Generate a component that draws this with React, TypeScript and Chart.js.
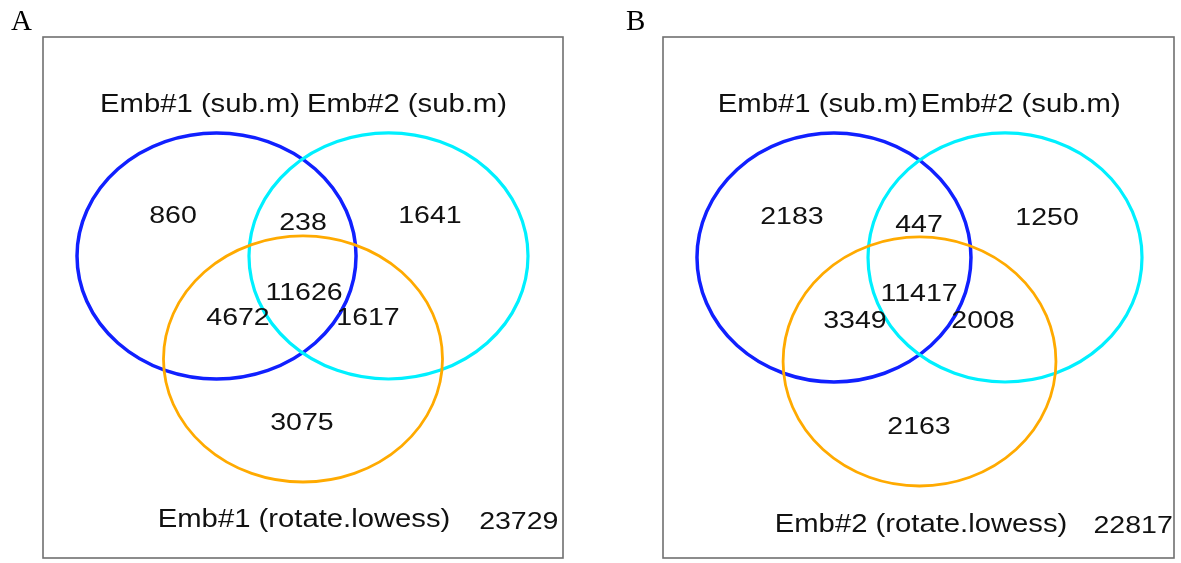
import React, { useEffect, useRef } from "react";
import { Chart, registerables } from "chart.js";

Chart.register(...registerables);

// ---------- data ----------
const panelLetters = ["A", "B"];
const setNamesA = ["Emb#1 (sub.m)", "Emb#2 (sub.m)", "Emb#1 (rotate.lowess)"];
const setNamesB = ["Emb#1 (sub.m)", "Emb#2 (sub.m)", "Emb#2 (rotate.lowess)"];
// region order: only set1, set1&2, only set2, all three, set1&3, set2&3, only set3
const regionKeys = ["1", "12", "2", "123", "13", "23", "3"];
const countsA = [860, 238, 1641, 11626, 4672, 1617, 3075];
const countsB = [2183, 447, 1250, 11417, 3349, 2008, 2163];
const outsideA = 23729;
const outsideB = 22817;

// ---------- layout (box-relative data units, 0..1) ----------
const setColors = ["#1020ff", "#00f0ff", "#ffaa00"];
const setLineWidths = [3.5, 3.2, 2.8];

const circlesA = [
  { cx: 0.3337, cy: 0.5797, rx: 0.2683, ry: 0.2361 },
  { cx: 0.6644, cy: 0.5797, rx: 0.2683, ry: 0.2361 },
  { cx: 0.5, cy: 0.382, rx: 0.2683, ry: 0.2361 },
];
const circlesB = [
  { cx: 0.3346, cy: 0.5768, rx: 0.2681, ry: 0.239 },
  { cx: 0.6693, cy: 0.5768, rx: 0.2681, ry: 0.239 },
  { cx: 0.502, cy: 0.3772, rx: 0.267, ry: 0.239 },
];
const regionAnchorsA = [
  [0.25, 0.658], [0.5, 0.645], [0.744, 0.658], [0.502, 0.512],
  [0.375, 0.4626], [0.625, 0.4626], [0.498, 0.261],
];
const regionAnchorsB = [
  [0.2524, 0.6564], [0.501, 0.641], [0.7515, 0.6545], [0.501, 0.5086],
  [0.3757, 0.4568], [0.6262, 0.4568], [0.501, 0.2534],
];
const nameAnchorsA = [[0.302, 0.873], [0.7, 0.873], [0.502, 0.077]];
const nameAnchorsB = [[0.303, 0.873], [0.7, 0.873], [0.505, 0.067]];
const outsideAnchorA = [0.915, 0.071];
const outsideAnchorB = [0.92, 0.063];

const FONT = '"Liberation Sans", Arial, Helvetica, sans-serif';

function drawStretched(ctx: CanvasRenderingContext2D, text: string, x: number, y: number, size: number, sx: number) {
  ctx.save();
  ctx.translate(x, y);
  ctx.scale(sx, 1);
  ctx.font = `${size}px ${FONT}`;
  ctx.textAlign = "center";
  ctx.textBaseline = "alphabetic";
  ctx.fillStyle = "#111111";
  ctx.fillText(text, 0, size * 0.36);
  ctx.restore();
}

const vennPlugin = {
  id: "vennDraw",
  afterDatasetsDraw(chart: any, _args: any, opts: any) {
    const { ctx, chartArea } = chart;
    const xs = chart.scales.x;
    const ys = chart.scales.y;
    ctx.save();
    // panel letter
    ctx.font = '29px "Liberation Serif", "Times New Roman", serif';
    ctx.fillStyle = "#000";
    ctx.textAlign = "left";
    ctx.textBaseline = "alphabetic";
    ctx.fillText(opts.letter, chartArea.left - opts.letterOffset, chartArea.top - 7);
    // box
    ctx.strokeStyle = "#707070";
    ctx.lineWidth = 1.6;
    ctx.strokeRect(chartArea.left, chartArea.top, chartArea.right - chartArea.left, chartArea.bottom - chartArea.top);
    // ellipses
    opts.circles.forEach((c: any, i: number) => {
      const px = xs.getPixelForValue(c.cx);
      const py = ys.getPixelForValue(c.cy);
      const rx = Math.abs(xs.getPixelForValue(c.cx + c.rx) - px);
      const ry = Math.abs(ys.getPixelForValue(c.cy + c.ry) - py);
      ctx.beginPath();
      ctx.ellipse(px, py, rx, ry, 0, 0, Math.PI * 2);
      ctx.strokeStyle = setColors[i];
      ctx.lineWidth = setLineWidths[i];
      ctx.stroke();
    });
    // region counts
    const m0 = chart.getDatasetMeta(0);
    m0.data.forEach((el: any, i: number) => {
      drawStretched(ctx, String(opts.counts[i]), el.x, el.y, 23, 1.24);
    });
    // set names
    const m1 = chart.getDatasetMeta(1);
    m1.data.forEach((el: any, i: number) => {
      drawStretched(ctx, opts.names[i], el.x, el.y, 25, 1.17);
    });
    // outside count
    const m2 = chart.getDatasetMeta(2);
    m2.data.forEach((el: any) => {
      drawStretched(ctx, String(opts.outside), el.x, el.y, 23, 1.24);
    });
    ctx.restore();
  },
};

function VennPanel(props: {
  left: number; width: number; padding: any; letter: string; letterOffset: number;
  circles: any[]; counts: number[]; anchors: number[][]; names: string[];
  nameAnchors: number[][]; outside: number; outsideAnchor: number[];
}) {
  const ref = useRef<HTMLCanvasElement>(null);
  useEffect(() => {
    if (!ref.current) return;
    const chart = new Chart(ref.current, {
      type: "scatter",
      data: {
        datasets: [
          { label: "regions", data: props.anchors.map((p, i) => ({ x: p[0], y: p[1], k: regionKeys[i] })) as any, pointRadius: 0 },
          { label: "sets", data: props.nameAnchors.map((p) => ({ x: p[0], y: p[1] })), pointRadius: 0 },
          { label: "outside", data: [{ x: props.outsideAnchor[0], y: props.outsideAnchor[1] }], pointRadius: 0 },
        ],
      },
      options: {
        responsive: false,
        animation: false,
        events: [],
        layout: { padding: props.padding },
        scales: {
          x: { type: "linear", min: 0, max: 1, display: false },
          y: { type: "linear", min: 0, max: 1, display: false },
        },
        plugins: {
          legend: { display: false },
          tooltip: { enabled: false },
          vennDraw: {
            letter: props.letter,
            letterOffset: props.letterOffset,
            circles: props.circles,
            counts: props.counts,
            names: props.names,
            outside: props.outside,
          },
        } as any,
      },
      plugins: [vennPlugin],
    });
    return () => chart.destroy();
  }, []);
  return (
    <canvas
      ref={ref}
      width={props.width}
      height={563}
      style={{ position: "absolute", left: props.left, top: 0, width: props.width, height: 563 }}
    />
  );
}

export default function App() {
  return (
    <div style={{ position: "fixed", left: 0, top: 0, width: 1181, height: 563, background: "#fff", overflow: "hidden" }}>
      <VennPanel
        left={0}
        width={590}
        padding={{ left: 43, top: 37, right: 27, bottom: 5 }}
        letter={panelLetters[0]}
        letterOffset={32}
        circles={circlesA}
        counts={countsA}
        anchors={regionAnchorsA}
        names={setNamesA}
        nameAnchors={nameAnchorsA}
        outside={outsideA}
        outsideAnchor={outsideAnchorA}
      />
      <VennPanel
        left={590}
        width={591}
        padding={{ left: 73, top: 37, right: 7, bottom: 5 }}
        letter={panelLetters[1]}
        letterOffset={37}
        circles={circlesB}
        counts={countsB}
        anchors={regionAnchorsB}
        names={setNamesB}
        nameAnchors={nameAnchorsB}
        outside={outsideB}
        outsideAnchor={outsideAnchorB}
      />
    </div>
  );
}
